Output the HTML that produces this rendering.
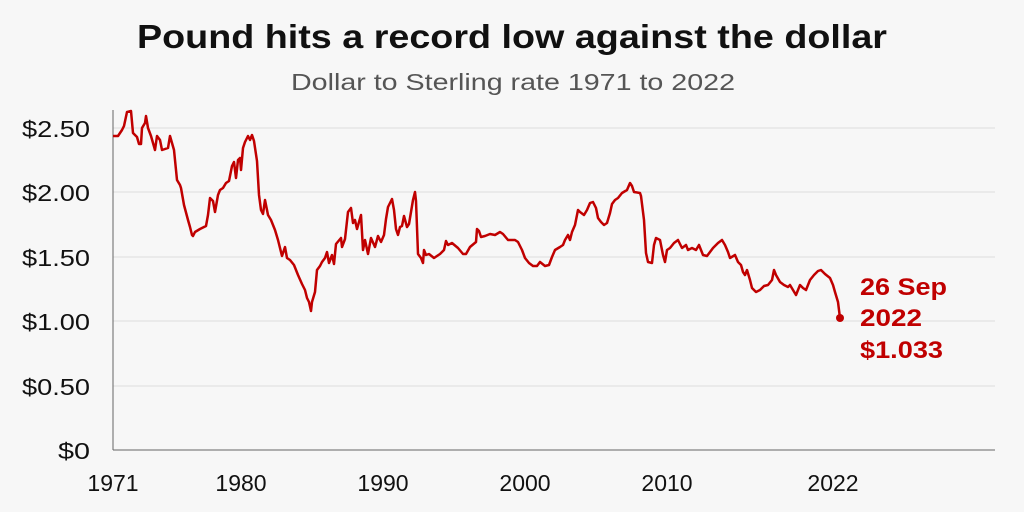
<!DOCTYPE html><html><head><style>
body{margin:0;background:#f7f7f7;}
svg{display:block;font-family:"Liberation Sans",sans-serif;}
</style></head><body>
<svg width="1024" height="512" viewBox="0 0 1024 512">
<rect width="1024" height="512" fill="#f7f7f7"/>
<text x="137" y="48" font-size="33" font-weight="bold" fill="#111" textLength="750" lengthAdjust="spacingAndGlyphs">Pound hits a record low against the dollar</text>
<text x="291" y="90" font-size="23" fill="#555" textLength="444" lengthAdjust="spacingAndGlyphs">Dollar to Sterling rate 1971 to 2022</text>
<g stroke="#ddd" stroke-width="1">
<line x1="113" y1="128" x2="995" y2="128"/><line x1="113" y1="192" x2="995" y2="192"/>
<line x1="113" y1="257" x2="995" y2="257"/><line x1="113" y1="321" x2="995" y2="321"/>
<line x1="113" y1="386" x2="995" y2="386"/>
</g>
<line x1="113" y1="110" x2="113" y2="450" stroke="#666" stroke-width="1"/>
<line x1="113" y1="450" x2="995" y2="450" stroke="#666" stroke-width="1"/>
<g font-size="23" fill="#111">
<text x="22" y="137" textLength="68" lengthAdjust="spacingAndGlyphs">$2.50</text>
<text x="22" y="201" textLength="68" lengthAdjust="spacingAndGlyphs">$2.00</text>
<text x="22" y="266" textLength="68" lengthAdjust="spacingAndGlyphs">$1.50</text>
<text x="22" y="330" textLength="68" lengthAdjust="spacingAndGlyphs">$1.00</text>
<text x="22" y="395" textLength="68" lengthAdjust="spacingAndGlyphs">$0.50</text>
<text x="58" y="459" textLength="32" lengthAdjust="spacingAndGlyphs">$0</text>
</g>
<g font-size="23" fill="#111" text-anchor="middle">
<text x="113" y="491">1971</text><text x="241" y="491">1980</text><text x="383" y="491">1990</text>
<text x="525" y="491">2000</text><text x="667" y="491">2010</text><text x="833" y="491">2022</text>
</g>
<polyline fill="none" stroke="#c00000" stroke-width="2.5" stroke-linejoin="round" points="113,136 118,136 122,130 124,126 127,112 131,111 133,133 137,137 139,144 141,144 142,128 145,123 146,116 148,128 151,136 155,150 157,136 160,140 162,150 168,148 170,136 172,143 174,150 177,180 180,185 181,188 184,205 188,220 190,227 192,235 193,236 195,232 200,229 206,226 208,215 210,198 213,201 215,212 218,195 220,190 223,188 226,183 229,181 232,166 234,162 236,178 238,160 240,158 241,170 243,148 245,142 248,136 250,140 252,135 254,141 257,161 259,195 261,210 263,214 265,200 268,215 271,220 275,230 278,240 282,256 285,247 287,258 290,260 294,265 298,275 302,284 305,290 307,298 309,302 311,311 312,302 315,292 317,270 320,266 322,262 325,258 327,252 329,263 332,255 334,264 336,244 341,238 342,247 345,239 348,212 351,208 353,223 355,220 357,229 361,215 363,250 365,240 368,254 371,238 375,247 378,236 381,242 384,235 386,219 388,207 390,203 392,199 394,210 396,229 398,235 400,227 402,226 404,216 407,227 409,224 411,212 413,200 415,192 416,201 418,254 421,258 423,263 424,250 426,255 429,254 434,258 440,254 444,250 446,241 448,245 452,243 458,248 463,254 466,254 470,247 476,242 477,229 479,231 481,237 485,236 490,234 495,235 500,232 503,234 508,240 515,240 518,242 522,250 525,258 529,263 533,266 537,266 540,262 545,266 549,265 552,257 555,250 560,247 563,245 565,240 568,235 570,240 572,232 575,225 578,210 580,212 584,215 587,210 590,203 593,202 596,208 598,218 601,222 604,225 607,223 610,213 612,204 615,200 618,198 622,193 627,190 630,183 632,186 634,192 640,193 641,196 644,220 646,253 648,262 652,263 654,245 656,238 660,240 663,255 665,262 667,250 670,248 674,243 678,240 682,248 686,245 688,250 692,248 696,250 699,245 703,255 707,256 713,248 718,243 722,240 725,245 728,252 730,258 735,255 738,262 741,265 743,272 745,275 747,270 750,280 752,288 756,292 760,290 764,286 768,285 772,280 774,270 776,275 780,282 784,285 788,287 790,285 793,290 796,295 798,290 800,285 803,288 806,290 808,285 810,280 814,275 818,271 821,270 825,274 830,278 833,285 835,292 838,302 840,318"/>
<circle cx="840" cy="318" r="4" fill="#c00000"/>
<g font-size="24" font-weight="bold" fill="#c00000">
<text x="860" y="295" textLength="87" lengthAdjust="spacingAndGlyphs">26 Sep</text>
<text x="860" y="326" textLength="62" lengthAdjust="spacingAndGlyphs">2022</text>
<text x="860" y="358" textLength="83" lengthAdjust="spacingAndGlyphs">$1.033</text>
</g>
</svg>
</body></html>
